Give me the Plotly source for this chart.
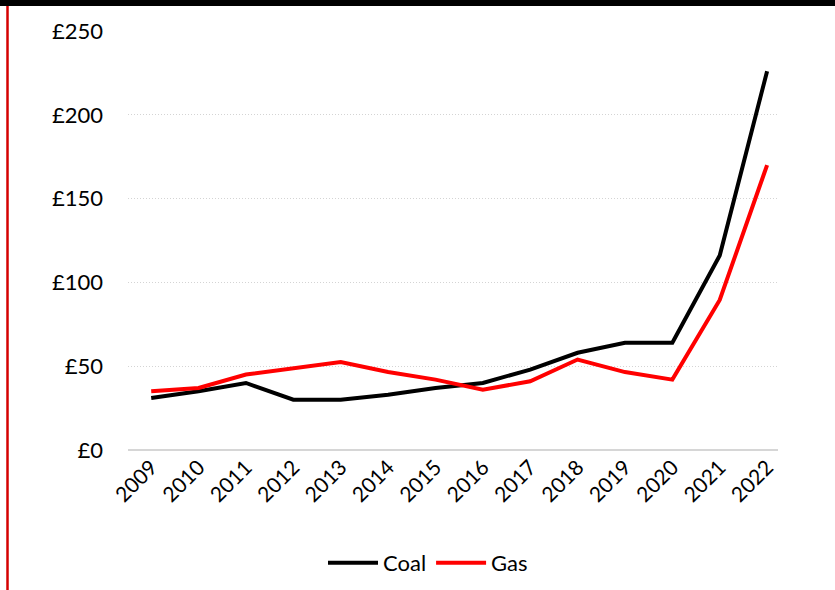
import plotly.graph_objects as go

years = [2009, 2010, 2011, 2012, 2013, 2014, 2015, 2016, 2017, 2018, 2019, 2020, 2021, 2022]
coal = [31, 35, 40, 30, 30, 33, 37, 40, 48, 58, 64, 64, 116, 226]
gas = [35, 37, 45, 49, 52.5, 46.5, 42, 36, 41, 54, 46.5, 42, 89.5, 170]
y_ticks = [0, 50, 100, 150, 200, 250]
y_labels = ["£0", "£50", "£100", "£150", "£200", "£250"]

W, H = 835, 590
L, R, T, B = 128, 57, 31, 140
pw, ph = W - L - R, H - T - B

def px_x(x):
    return (x - L) / pw

def px_y(y):
    return (H - B - y) / ph

fig = go.Figure()
fig.add_trace(go.Scatter(x=years, y=coal, name="Coal", mode="lines",
                         line=dict(color="#000000", width=4)))
fig.add_trace(go.Scatter(x=years, y=gas, name="Gas", mode="lines",
                         line=dict(color="#ff0000", width=4)))

fig.update_layout(
    width=W, height=H,
    margin=dict(l=L, r=R, t=T, b=B, autoexpand=False),
    paper_bgcolor="white", plot_bgcolor="white",
    font=dict(family="Lato", size=22, color="#000000"),
    showlegend=True,
    legend=dict(orientation="h", x=px_x(428), xanchor="center",
                y=px_y(563), yanchor="middle", font=dict(size=22),
                itemwidth=50, traceorder="normal"),
    xaxis=dict(range=[2008.51, 2022.23], tickmode="array", tickvals=years,
               ticktext=[str(y) for y in years], tickangle=-45,
               tickfont=dict(size=21), automargin=False,
               showgrid=False, zeroline=False, showline=False, ticks=""),
    yaxis=dict(range=[0, 250], tickmode="array", tickvals=y_ticks,
               ticktext=y_labels, showgrid=True, gridcolor="#d4d4d4",
               griddash="1px,2px", gridwidth=1, zeroline=True,
               zerolinecolor="#d6d6d6", zerolinewidth=1.5, automargin=False,
               ticks="", ticklabelstandoff=24),
    shapes=[
        dict(type="rect", xref="paper", yref="paper",
             x0=px_x(0), x1=px_x(W), y0=px_y(6), y1=px_y(-2),
             fillcolor="#000000", line=dict(width=0), layer="above"),
        dict(type="line", xref="paper", yref="paper",
             x0=px_x(7.5), x1=px_x(7.5), y0=px_y(6), y1=px_y(H + 10),
             line=dict(color="#d40000", width=2.5)),
    ],
)

fig.write_html("out.html")
